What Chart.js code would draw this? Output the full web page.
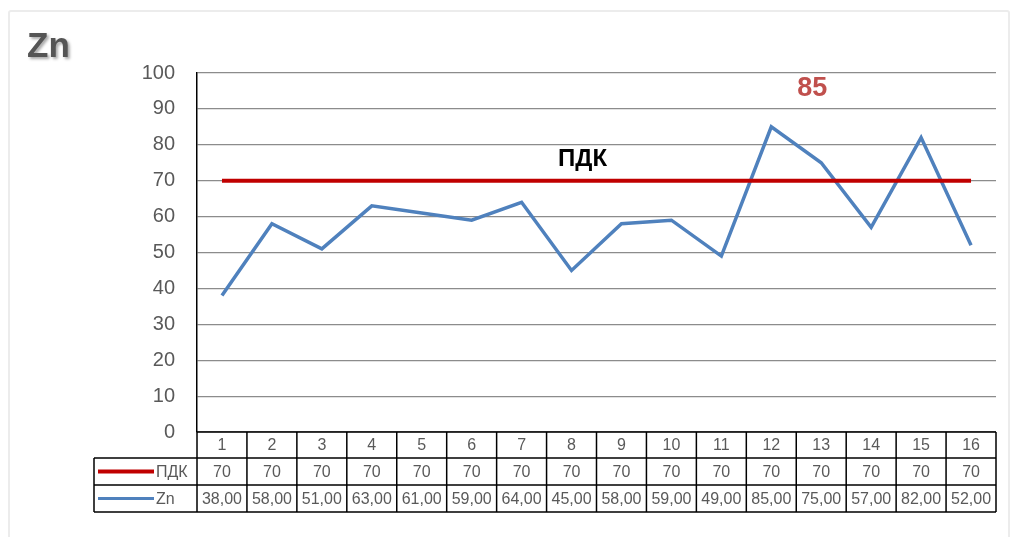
<!DOCTYPE html>
<html>
<head>
<meta charset="utf-8">
<script src="https://cdn.jsdelivr.net/npm/chart.js@4/dist/chart.umd.min.js"></script>
<style>
  html, body { margin: 0; padding: 0; background: #fff; }
  #wrap { position: relative; width: 1022px; height: 537px; }
  #frame { position: absolute; left: 8px; top: 10px; width: 998px; height: 540px;
           border: 2px solid #ececec; border-radius: 3px; }
  canvas { position: absolute; left: 0; top: 0; }
</style>
</head>
<body>
<div id="wrap">
  <div id="frame"></div>
  <canvas id="znChart" width="1022" height="537"></canvas>
</div>
<script>
// data
const categories = ['1','2','3','4','5','6','7','8','9','10','11','12','13','14','15','16'];
const pdkValues = [70,70,70,70,70,70,70,70,70,70,70,70,70,70,70,70];
const znValues = [38,58,51,63,61,59,64,45,58,59,49,85,75,57,82,52];
const yTicks = [0,10,20,30,40,50,60,70,80,90,100];

const RED = '#c00000';
const BLUE = '#4f81bd';
const GREY_TEXT = '#595959';

function fmt(v, dec) {
  return v.toFixed(dec).replace('.', ',');
}

// data table under the plot + free text
const tablePlugin = {
  id: 'dataTable',
  afterDraw(chart) {
    const ctx = chart.ctx;
    const area = chart.chartArea;
    const xs = chart.scales.x;
    const ys = chart.scales.y;
    const n = categories.length;
    const colW = (area.right - area.left) / n;
    const rows = [area.bottom, area.bottom + 26, area.bottom + 53, area.bottom + 80];
    const legL = 94;

    ctx.save();
    ctx.strokeStyle = '#000';
    ctx.lineWidth = 1.5;
    // horizontal lines
    ctx.beginPath();
    ctx.moveTo(area.left, rows[0]); ctx.lineTo(area.right, rows[0]);
    for (let r = 1; r < rows.length; r++) {
      ctx.moveTo(legL, rows[r]); ctx.lineTo(area.right, rows[r]);
    }
    // vertical lines
    for (let i = 0; i <= n; i++) {
      const x = area.left + i * colW;
      ctx.moveTo(x, rows[0]); ctx.lineTo(x, rows[3]);
    }
    ctx.moveTo(legL, rows[1]); ctx.lineTo(legL, rows[3]);
    ctx.stroke();

    // cell texts
    ctx.fillStyle = GREY_TEXT;
    ctx.font = '16px "Liberation Sans", Arial, sans-serif';
    ctx.textAlign = 'center';
    ctx.textBaseline = 'middle';
    for (let i = 0; i < n; i++) {
      const cx = xs.getPixelForValue(i);
      ctx.fillText(categories[i], cx, (rows[0] + rows[1]) / 2 + 1);
      ctx.fillText(String(pdkValues[i]), cx, (rows[1] + rows[2]) / 2 + 1);
      ctx.fillText(fmt(znValues[i], 2), cx, (rows[2] + rows[3]) / 2 + 1);
    }

    // legend keys
    const legend = [['ПДК', RED, 4], ['Zn', BLUE, 3]];
    legend.forEach((item, k) => {
      const cy = (rows[k + 1] + rows[k + 2]) / 2;
      ctx.strokeStyle = item[1];
      ctx.lineWidth = item[2];
      ctx.beginPath();
      ctx.moveTo(98, cy); ctx.lineTo(154, cy);
      ctx.stroke();
      ctx.fillStyle = GREY_TEXT;
      ctx.textAlign = 'left';
      ctx.fillText(item[0], 156, cy + 1);
    });

    // title
    ctx.font = 'bold 35px "Liberation Sans", Arial, sans-serif';
    ctx.textAlign = 'left';
    ctx.textBaseline = 'alphabetic';
    ctx.shadowColor = 'rgba(0,0,0,0.35)';
    ctx.shadowOffsetX = 2;
    ctx.shadowOffsetY = 2;
    ctx.shadowBlur = 3;
    ctx.fillStyle = '#555';
    ctx.fillText('Zn', 27, 57);
    ctx.shadowColor = 'transparent';

    // annotations
    ctx.textAlign = 'center';
    ctx.textBaseline = 'middle';
    ctx.font = 'bold 27px "Liberation Sans", Arial, sans-serif';
    ctx.fillStyle = '#c0504d';
    ctx.fillText('85', xs.getPixelForValue(11) + 41, ys.getPixelForValue(95.8));
    ctx.font = 'bold 24px "Liberation Sans", Arial, sans-serif';
    ctx.fillStyle = '#000';
    ctx.fillText('ПДК', xs.getPixelForValue(7) + 11, ys.getPixelForValue(76));
    ctx.restore();
  }
};

new Chart(document.getElementById('znChart'), {
  type: 'line',
  data: {
    labels: categories,
    datasets: [
      { label: 'ПДК', data: pdkValues, borderColor: RED, borderWidth: 4,
        pointRadius: 0, tension: 0, fill: false },
      { label: 'Zn', data: znValues, borderColor: BLUE, borderWidth: 3.5,
        pointRadius: 0, tension: 0, fill: false }
    ]
  },
  options: {
    responsive: false,
    animation: false,
    layout: { padding: { top: 73, right: 26, bottom: 105, left: 0 } },
    plugins: { legend: { display: false }, tooltip: { enabled: false } },
    scales: {
      x: {
        offset: true,
        display: false,
        grid: { display: false }
      },
      y: {
        min: 0, max: 100,
        afterBuildTicks(scale) { scale.ticks = yTicks.map(v => ({ value: v })); },
        afterFit(scale) { scale.width = 197; },
        border: { color: '#000', width: 1.5 },
        grid: { color: '#8c8c8c', lineWidth: 1.2, drawTicks: false },
        ticks: {
          padding: 22,
          color: GREY_TEXT,
          font: { family: '"Liberation Sans", Arial, sans-serif', size: 20 }
        }
      }
    }
  },
  plugins: [tablePlugin]
});
</script>
</body>
</html>
